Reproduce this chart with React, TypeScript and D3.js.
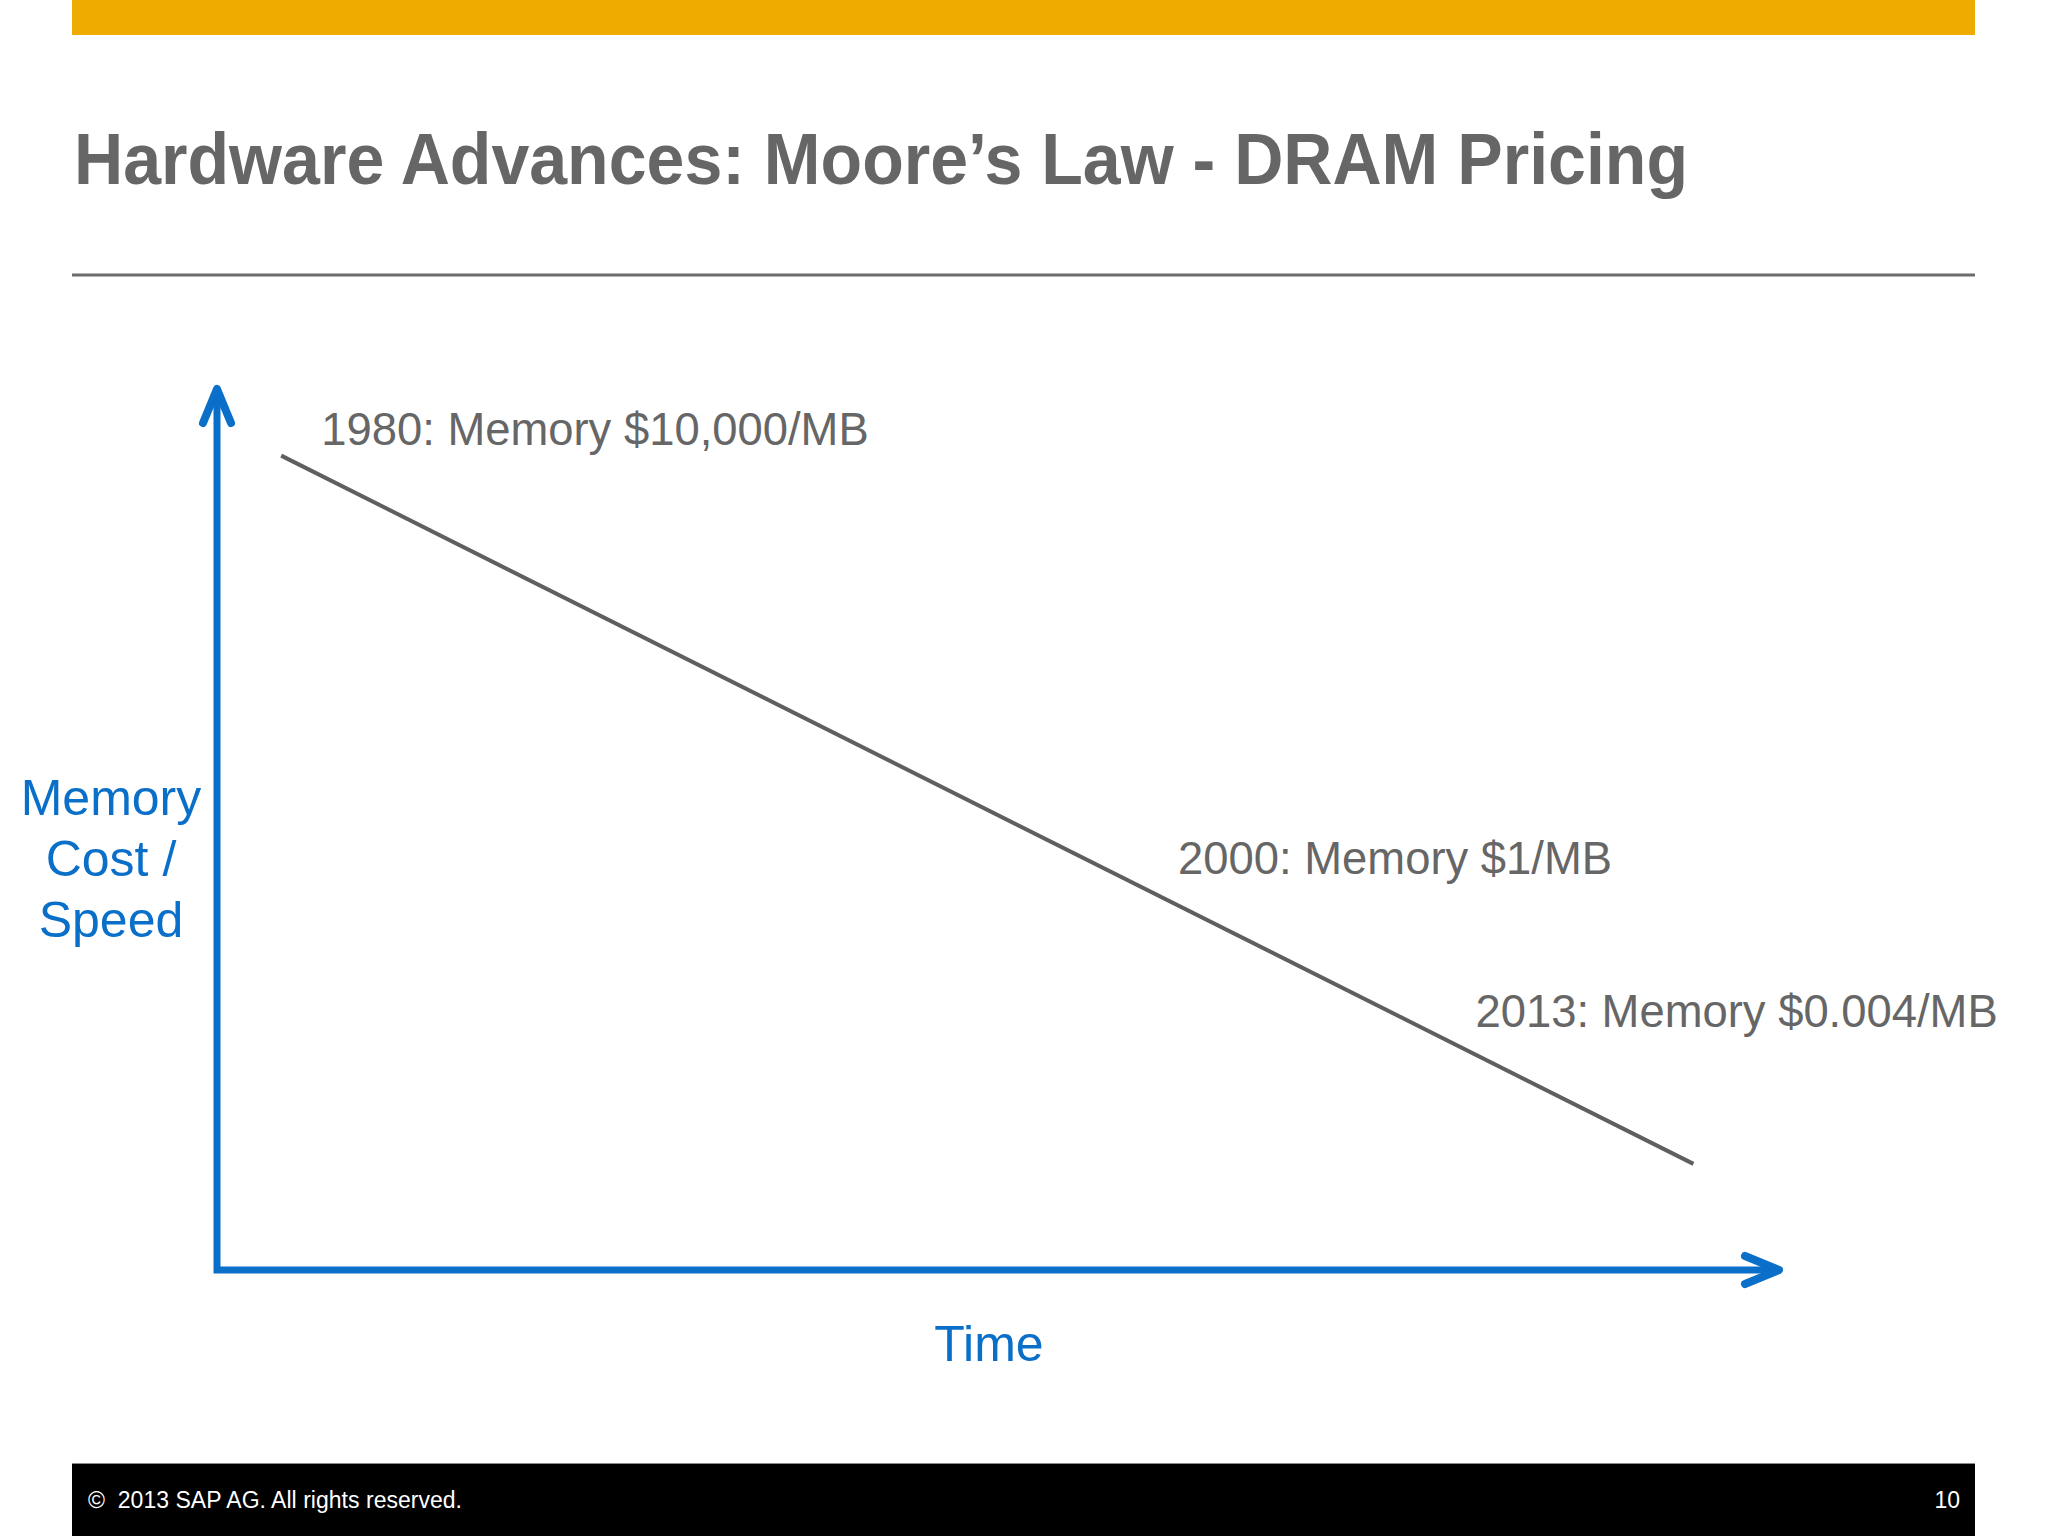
import React from "react";
import * as d3 from "d3";

// ---- data ----
const years: number[] = [1980, 2000, 2013];
const pricePerMB: number[] = [10000, 1, 0.004];
const labels: string[] = [
  "1980: Memory $10,000/MB",
  "2000: Memory $1/MB",
  "2013: Memory $0.004/MB",
];
const labelDx: number[] = [40, 41, -218];
const labelDy: number[] = [-11, -24, -137];
const yAxisLabelLines: string[] = ["Memory", "Cost /", "Speed"];
const xAxisLabel = "Time";
const title = "Hardware Advances: Moore\u2019s Law - DRAM Pricing";
const footer = "\u00A9\u00A0 2013 SAP AG. All rights reserved.";
const pageNo = "10";

const W = 2048;
const H = 1536;
const BLUE = "#0a6fc8";
const GREY = "#666666";
const FONT = "'Liberation Sans', Arial, Helvetica, sans-serif";

export default function App() {
  const x = d3.scaleLinear().domain([1978.5, 2015]).range([217, 1779]);
  const y = d3.scaleLog().domain([0.00044, 40000]).range([1270, 389]);

  const x0 = x.range()[0];
  const x1 = x.range()[1];
  const yB = y.range()[0];
  const yT = y.range()[1];

  const lineGen = d3
    .line<[number, number]>()
    .x((d) => x(d[0]))
    .y((d) => y(d[1]));
  const first: [number, number] = [years[0], pricePerMB[0]];
  const last: [number, number] = [years[years.length - 1], pricePerMB[pricePerMB.length - 1]];
  const trend = lineGen([first, last]) || "";

  const axisPath = `M${x0},${yT + 4}L${x0},${yB}L${x1 - 4},${yB}`;
  const ah = 34;
  const aw = 14;
  const upHead = `M${x0 - aw},${yT + ah}L${x0},${yT}L${x0 + aw},${yT + ah}`;
  const rightHead = `M${x1 - ah},${yB - aw}L${x1},${yB}L${x1 - ah},${yB + aw}`;

  return (
    <svg
      width={W}
      height={H}
      viewBox={`0 0 ${W} ${H}`}
      style={{ position: "absolute", left: 0, top: 0, background: "#fff" }}
      fontFamily={FONT}
    >
      <rect x={0} y={0} width={W} height={H} fill="#ffffff" />
      {/* top gold bar */}
      <rect x={72} y={0} width={1903} height={35} fill="#f0ab00" />
      {/* title */}
      <text
        x={74}
        y={184}
        fontSize={73}
        fontWeight="bold"
        fill={GREY}
        textLength={1614}
        lengthAdjust="spacingAndGlyphs"
      >
        {title}
      </text>
      {/* rule */}
      <line x1={72} x2={1975} y1={275} y2={275} stroke="#6b6b6b" strokeWidth={3} />

      {/* axes */}
      <path d={axisPath} fill="none" stroke={BLUE} strokeWidth={7} strokeLinejoin="miter" />
      <path d={upHead} fill="none" stroke={BLUE} strokeWidth={8} strokeLinecap="round" strokeLinejoin="round" />
      <path d={rightHead} fill="none" stroke={BLUE} strokeWidth={8} strokeLinecap="round" strokeLinejoin="round" />

      {/* trend line */}
      <path d={trend} fill="none" stroke="#5f5f5f" strokeWidth={4} />

      {/* annotations */}
      {years.map((yr, i) => (
        <text
          key={yr}
          x={x(yr) + labelDx[i]}
          y={y(pricePerMB[i]) + labelDy[i]}
          fontSize={45.4}
          fill={GREY}
        >
          {labels[i]}
        </text>
      ))}

      {/* axis labels */}
      <text textAnchor="middle" fontSize={50} fill={BLUE}>
        {yAxisLabelLines.map((l, i) => (
          <tspan key={l} x={111} y={815 + i * 61}>
            {l}
          </tspan>
        ))}
      </text>
      <text x={989} y={1361} textAnchor="middle" fontSize={50} fill={BLUE}>
        {xAxisLabel}
      </text>

      {/* footer */}
      <rect x={72} y={1463} width={1903} height={73} fill="#000000" />
      <line x1={72} x2={1975} y1={1463.5} y2={1463.5} stroke="#8a8a8a" strokeWidth={1} />
      <text x={88} y={1508} fontSize={23} fill="#ffffff" textLength={374} lengthAdjust="spacing">
        {footer}
      </text>
      <text x={1960} y={1508} fontSize={23} fill="#ffffff" textAnchor="end">
        {pageNo}
      </text>
    </svg>
  );
}
